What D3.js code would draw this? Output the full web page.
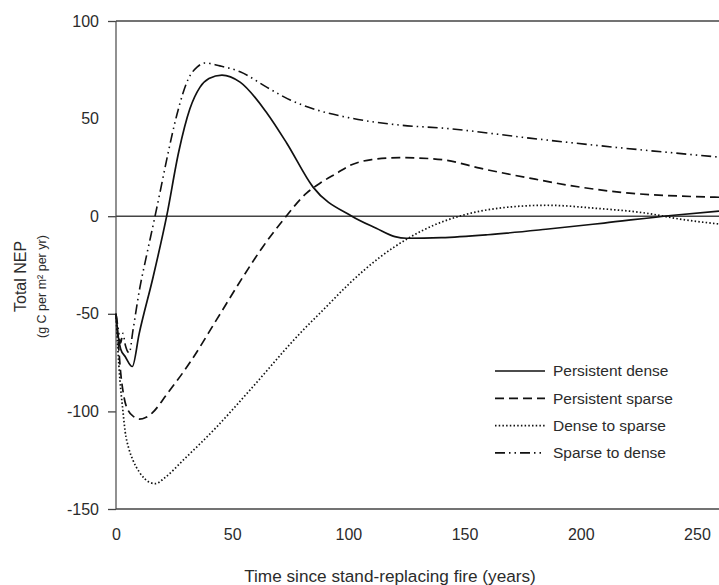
<!DOCTYPE html>
<html>
<head>
<meta charset="utf-8">
<script src="https://cdn.jsdelivr.net/npm/d3@7"></script>
<style>
  body { margin: 0; background: #fff; }
  text { font-family: "Liberation Sans", Arial, sans-serif; fill: #2b2b2b; }
</style>
</head>
<body>
<svg id="chart"></svg>
<script>
// sizes
var size = { width: 719, height: 585 };
var plot = { left: 116, right: 719, top: 21, bottom: 509 };

// data
var xTicks = [0, 50, 100, 150, 200, 250];
var yTicks = [-150, -100, -50, 0, 50, 100];
var seriesNames = ["Persistent dense", "Persistent sparse", "Dense to sparse", "Sparse to dense"];

var denseYears  = [0, 1, 2, 4, 7, 10, 16, 21.8, 27, 31.8, 36.1, 40, 45.6, 53.4, 65, 73.5, 84.8, 101.5, 112, 120, 125, 140, 160, 185, 210, 240, 259.5];
var denseValues = [-50, -62, -68, -72, -77, -60, -31, 0, 33, 55, 66, 70.5, 72.3, 68.7, 52.8, 37.4, 14.9, 0, -6.2, -10.5, -11.3, -11, -9.5, -6.7, -3.5, 0.5, 2.6];

var sparseYears  = [0, 1, 2, 3.5, 5.2, 8, 10, 13, 15.4, 22, 31.8, 43.3, 54.7, 63, 71.9, 82, 87.8, 95, 100.7, 110, 122, 130, 142, 156.6, 178, 199.7, 221, 242.7, 259.5];
var sparseValues = [-50, -65, -80, -93, -99.5, -103, -104, -103, -101, -91, -75, -53, -31, -16, -2, 11.8, 16.9, 22, 26, 29, 30, 29.8, 28.7, 24.6, 19.5, 14.9, 11.8, 10.3, 9.7];

var denseToSparseYears  = [0, 0.8, 1.7, 3, 3.9, 5.5, 7.3, 10, 14.6, 17, 21, 28.9, 43.3, 57.7, 79.2, 90, 100, 113.6, 126.5, 137, 149.3, 164, 185.5, 207, 228.5, 242.7, 259.5];
var denseToSparseValues = [-50, -68, -84, -100, -110, -119, -125, -131, -136.4, -137, -134, -125, -108, -89, -60, -47, -35, -21, -10.8, -4.5, 0.5, 4, 5.6, 4, 1.5, -1.5, -4];

var sparseToDenseYears  = [0, 1, 2, 3, 4, 5.7, 7.3, 10.3, 13, 16.8, 18.9, 22, 26.2, 31, 35, 38.3, 44.7, 53.4, 65, 75, 86.5, 100, 122, 142, 178, 214, 259.5];
var sparseToDenseValues = [-50, -58, -65, -60, -66, -70, -58.5, -36.4, -21, 0, 12, 30, 52, 70, 76.5, 78.5, 77, 74, 66, 59.5, 54.4, 50.5, 46.7, 45, 40, 35.4, 30.3];

var dashes = [null, "9,5", "1.5,2.2", "10,4,1.5,4,1.5,4"];
var widths = [1.7, 1.7, 1.7, 1.6];

var series = [
  { years: denseYears, values: denseValues },
  { years: sparseYears, values: sparseValues },
  { years: denseToSparseYears, values: denseToSparseValues },
  { years: sparseToDenseYears, values: sparseToDenseValues }
];

// scales and axes
var svg = d3.select("#chart")
  .attr("width", size.width)
  .attr("height", size.height);

var x = d3.scaleLinear()
  .domain([0, 259.5])
  .range([plot.left, plot.right]);

var y = d3.scaleLinear()
  .domain([-150, 100])
  .range([plot.bottom, plot.top]);

var xAxis = d3.axisBottom(x)
  .tickValues(xTicks)
  .tickFormat(function(d){ return String(d); })
  .tickSize(0)
  .tickPadding(20);

var yAxis = d3.axisLeft(y)
  .tickValues(yTicks)
  .tickFormat(function(d){ return String(d); })
  .tickSize(8)
  .tickPadding(9);

var gx = svg.append("g")
  .attr("transform", "translate(0," + plot.bottom + ")")
  .call(xAxis);
gx.select(".domain").remove();
gx.selectAll("text").style("font-size", "16px").style("fill", "#2b2b2b");

var gy = svg.append("g")
  .attr("transform", "translate(" + plot.left + ",0)")
  .call(yAxis);
gy.select(".domain").remove();
gy.selectAll("line").attr("stroke", "#444").attr("stroke-width", 1.3);
gy.selectAll(".tick").filter(function(d){ return d === 50; }).select("line").remove();
gy.selectAll("text").style("font-size", "16px").style("fill", "#2b2b2b");

// frame lines: y axis, top, zero and bottom
svg.append("line")
  .attr("x1", plot.left).attr("x2", plot.left)
  .attr("y1", y(100)).attr("y2", y(-150))
  .attr("stroke", "#555").attr("stroke-width", 1.3);

[100, 0, -150].forEach(function(v){
  svg.append("line")
    .attr("x1", plot.left).attr("x2", plot.right)
    .attr("y1", y(v)).attr("y2", y(v))
    .attr("stroke", "#444").attr("stroke-width", 1.4);
});

// lines
var line = d3.line()
  .x(function(d){ return x(d[0]); })
  .y(function(d){ return y(d[1]); })
  .curve(d3.curveMonotoneX);

series.forEach(function(s, i){
  svg.append("path")
    .datum(d3.zip(s.years, s.values))
    .attr("fill", "none")
    .attr("stroke", "#111")
    .attr("stroke-width", widths[i])
    .attr("stroke-dasharray", dashes[i])
    .attr("d", line);
});

// legend
var legend = svg.append("g")
  .attr("transform", "translate(495,371)");

seriesNames.forEach(function(name, i){
  var row = legend.append("g").attr("transform", "translate(0," + (i * 27.3) + ")");
  row.append("line")
    .attr("x1", 0).attr("x2", 50)
    .attr("stroke", "#111")
    .attr("stroke-width", widths[i])
    .attr("stroke-dasharray", dashes[i]);
  row.append("text")
    .attr("x", 58)
    .attr("dy", "0.35em")
    .style("font-size", "15.5px")
    .text(name);
});

// axis titles
svg.append("text")
  .attr("x", 390)
  .attr("y", 582)
  .attr("text-anchor", "middle")
  .style("font-size", "17.2px")
  .text("Time since stand-replacing fire (years)");

svg.append("text")
  .attr("transform", "translate(26,312) rotate(-90)")
  .style("font-size", "16px")
  .text("Total NEP");

svg.append("text")
  .attr("transform", "translate(46,338) rotate(-90)")
  .style("font-size", "12.5px")
  .text("(g C per m² per yr)");
</script>
</body>
</html>
